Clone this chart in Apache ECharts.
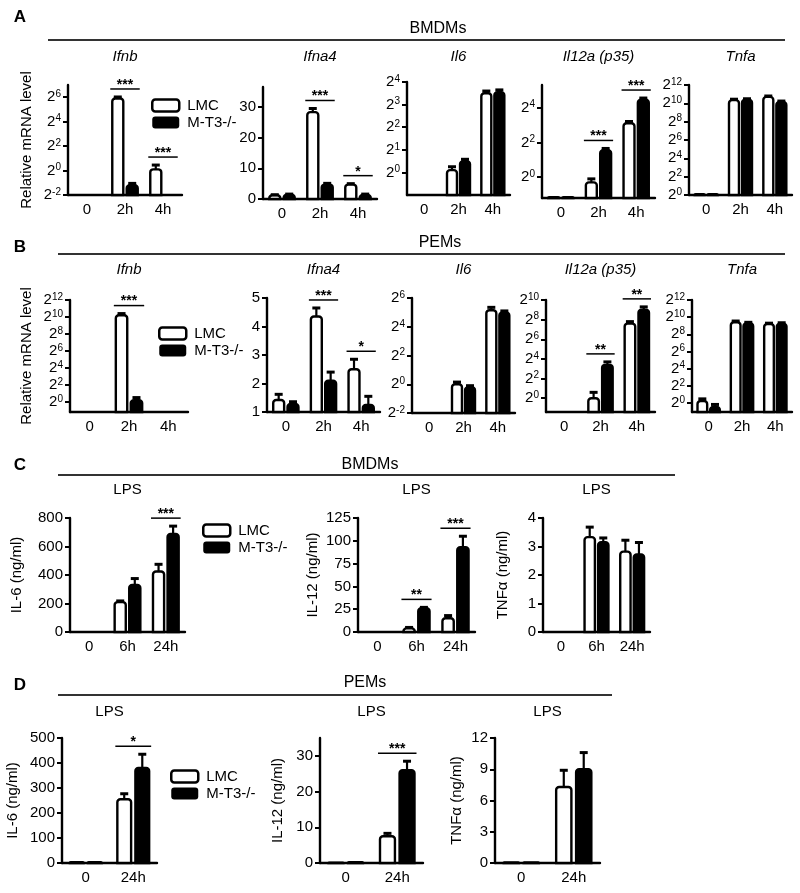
<!DOCTYPE html>
<html>
<head>
<meta charset="utf-8">
<script src="https://cdn.jsdelivr.net/npm/echarts@6/dist/echarts.min.js"></script>
<style>html,body{margin:0;padding:0;background:#fff}#c{width:800px;height:893px}</style>
</head>
<body>
<div id="c"></div>
<script>
// ---------------- categories ----------------
const catsH = ['0', '2h', '4h'];
const catsC = ['0', '6h', '24h'];
const catsD = ['0', '24h'];

// ---------------- Panel A: BMDMs, relative mRNA (log2 units) ----------------
const aIfnbLMC = [-2, 5.9, 0.1];      const aIfnbLMCErr = [0, 0.12, 0.35];
const aIfnbMT3 = [-2, -1.2, -2];      const aIfnbMT3Err = [0, 0.15, 0];
const aIfnbSig = [[1, '***'], [2, '***']];

const aIfna4LMC = [1.2, 28.3, 4.7];   const aIfna4LMCErr = [0.2, 1.2, 0.3];
const aIfna4MT3 = [1.4, 4.7, 1.3];    const aIfna4MT3Err = [0.2, 0.4, 0.3];
const aIfna4Sig = [[1, '***'], [2, '*']];

const aIl6LMC = [-1, 0.1, 3.5];       const aIl6LMCErr = [0, 0.15, 0.1];
const aIl6MT3 = [-1, 0.5, 3.55];      const aIl6MT3Err = [0, 0.08, 0.1];
const aIl6Sig = [];

const aIl12LMC = [-1.15, -0.3, 3.1];  const aIl12LMCErr = [0, 0.2, 0.1];
const aIl12MT3 = [-1.15, 1.55, 4.45]; const aIl12MT3Err = [0, 0.1, 0.1];
const aIl12Sig = [[1, '***'], [2, '***']];

const aTnfaLMC = [0.1, 10.35, 10.7];  const aTnfaLMCErr = [0, 0.1, 0.1];
const aTnfaMT3 = [0.1, 10.4, 10.15];  const aTnfaMT3Err = [0, 0.1, 0.1];
const aTnfaSig = [];

// ---------------- Panel B: PEMs, relative mRNA (log2 units) ----------------
const bIfnbLMC = [-1.2, 10.2, -1.2];  const bIfnbLMCErr = [0, 0.2, 0];
const bIfnbMT3 = [-1.2, 0.2, -1.2];   const bIfnbMT3Err = [0, 0.3, 0];
const bIfnbSig = [[1, '***']];

const bIfna4LMC = [1.42, 4.35, 2.5];  const bIfna4LMCErr = [0.2, 0.3, 0.35];
const bIfna4MT3 = [1.28, 2.1, 1.25];  const bIfna4MT3Err = [0.08, 0.3, 0.3];
const bIfna4Sig = [[1, '***'], [2, '*']];

const bIl6LMC = [-2, 0.0, 5.15];      const bIl6LMCErr = [0, 0.15, 0.2];
const bIl6MT3 = [-2, -0.2, 5.0];      const bIl6MT3Err = [0, 0.1, 0.1];
const bIl6Sig = [];

const bIl12LMC = [-1.4, 0.0, 7.6];    const bIl12LMCErr = [0, 0.6, 0.2];
const bIl12MT3 = [-1.4, 3.4, 9.0];    const bIl12MT3Err = [0, 0.3, 0.3];
const bIl12Sig = [[1, '**'], [2, '**']];

const bTnfaLMC = [0.23, 9.4, 9.2];    const bTnfaLMCErr = [0.25, 0.15, 0.1];
const bTnfaMT3 = [-0.47, 9.3, 9.25];  const bTnfaMT3Err = [0.3, 0.1, 0.1];
const bTnfaSig = [];

// ---------------- Panel C: BMDMs, LPS (ng/ml) ----------------
const cIl6LMC = [0, 210, 425];        const cIl6LMCErr = [0, 8, 50];
const cIl6MT3 = [0, 330, 688];        const cIl6MT3Err = [0, 45, 55];
const cIl6Sig = [[2, '***']];

const cIl12LMC = [0, 4, 15];          const cIl12LMCErr = [0, 1, 3];
const cIl12MT3 = [0, 26, 93];         const cIl12MT3Err = [0, 1, 12];
const cIl12Sig = [[1, '**'], [2, '***']];

const cTnfLMC = [0, 3.33, 2.82];      const cTnfLMCErr = [0, 0.35, 0.4];
const cTnfMT3 = [0, 3.15, 2.72];      const cTnfMT3Err = [0, 0.15, 0.42];
const cTnfSig = [];

// ---------------- Panel D: PEMs, LPS (ng/ml) ----------------
const dIl6LMC = [3, 255];             const dIl6LMCErr = [0, 22];
const dIl6MT3 = [3, 380];             const dIl6MT3Err = [0, 55];
const dIl6Sig = [[1, '*']];

const dIl12LMC = [0.1, 7.5];          const dIl12LMCErr = [0, 0.8];
const dIl12MT3 = [0.2, 26];           const dIl12MT3Err = [0, 2.5];
const dIl12Sig = [[1, '***']];

const dTnfLMC = [0.05, 7.3];          const dTnfLMCErr = [0, 1.6];
const dTnfMT3 = [0.05, 9.0];          const dTnfMT3Err = [0, 1.6];
const dTnfSig = [];

// ---------------- tick label values ----------------
const ticksEvenNeg2to6 = [-2, 0, 2, 4, 6];
const ticks0to4 = [0, 1, 2, 3, 4];
const ticks0to4Even = [0, 2, 4];
const ticks0to12Even = [0, 2, 4, 6, 8, 10, 12];
const ticks0to10Even = [0, 2, 4, 6, 8, 10];
const ticks0to30 = [0, 10, 20, 30];
const ticks1to5 = [1, 2, 3, 4, 5];
const ticks0to800 = [0, 200, 400, 600, 800];
const ticks0to125 = [0, 25, 50, 75, 100, 125];
const ticks0to4Lin = [0, 1, 2, 3, 4];
const ticks0to500 = [0, 100, 200, 300, 400, 500];
const ticks0to12By3 = [0, 3, 6, 9, 12];

// ---------------- texts ----------------
const mrnaName = 'Relative mRNA level';
const seriesNames = ['LMC', 'M-T3-/-'];

// ---------------- chart definitions (built from arrays) ----------------
const charts = [
  {title:'Ifnb', it:true, cats:catsH, d:[aIfnbLMC,aIfnbLMCErr,aIfnbMT3,aIfnbMT3Err], sig:aIfnbSig, min:-2, max:7, ticks:ticksEvenNeg2to6, log:true, yName:mrnaName},
  {title:'Ifna4', it:true, cats:catsH, d:[aIfna4LMC,aIfna4LMCErr,aIfna4MT3,aIfna4MT3Err], sig:aIfna4Sig, min:0, max:36.5, ticks:ticks0to30, log:false},
  {title:'Il6', it:true, cats:catsH, d:[aIl6LMC,aIl6LMCErr,aIl6MT3,aIl6MT3Err], sig:aIl6Sig, min:-1, max:4, ticks:ticks0to4, log:true},
  {title:'Il12a (p35)', it:true, cats:catsH, d:[aIl12LMC,aIl12LMCErr,aIl12MT3,aIl12MT3Err], sig:aIl12Sig, min:-1.2, max:5.3, ticks:ticks0to4Even, log:true},
  {title:'Tnfa', it:true, cats:catsH, d:[aTnfaLMC,aTnfaLMCErr,aTnfaMT3,aTnfaMT3Err], sig:aTnfaSig, min:0, max:12, ticks:ticks0to12Even, log:true},

  {title:'Ifnb', it:true, cats:catsH, d:[bIfnbLMC,bIfnbLMCErr,bIfnbMT3,bIfnbMT3Err], sig:bIfnbSig, min:-1.2, max:12, ticks:ticks0to12Even, log:true, yName:mrnaName},
  {title:'Ifna4', it:true, cats:catsH, d:[bIfna4LMC,bIfna4LMCErr,bIfna4MT3,bIfna4MT3Err], sig:bIfna4Sig, min:1, max:5, ticks:ticks1to5, log:false},
  {title:'Il6', it:true, cats:catsH, d:[bIl6LMC,bIl6LMCErr,bIl6MT3,bIl6MT3Err], sig:bIl6Sig, min:-2, max:6, ticks:ticksEvenNeg2to6, log:true},
  {title:'Il12a (p35)', it:true, cats:catsH, d:[bIl12LMC,bIl12LMCErr,bIl12MT3,bIl12MT3Err], sig:bIl12Sig, min:-1.4, max:10, ticks:ticks0to10Even, log:true},
  {title:'Tnfa', it:true, cats:catsH, d:[bTnfaLMC,bTnfaLMCErr,bTnfaMT3,bTnfaMT3Err], sig:bTnfaSig, min:-1.05, max:12, ticks:ticks0to12Even, log:true},

  {title:'LPS', it:false, cats:catsC, d:[cIl6LMC,cIl6LMCErr,cIl6MT3,cIl6MT3Err], sig:cIl6Sig, min:0, max:800, ticks:ticks0to800, log:false, yName:'IL-6 (ng/ml)'},
  {title:'LPS', it:false, cats:catsC, d:[cIl12LMC,cIl12LMCErr,cIl12MT3,cIl12MT3Err], sig:cIl12Sig, min:0, max:125, ticks:ticks0to125, log:false, yName:'IL-12 (ng/ml)'},
  {title:'LPS', it:false, cats:catsC, d:[cTnfLMC,cTnfLMCErr,cTnfMT3,cTnfMT3Err], sig:cTnfSig, min:0, max:4, ticks:ticks0to4Lin, log:false, yName:'TNF\u03b1 (ng/ml)'},

  {title:'LPS', it:false, cats:catsD, d:[dIl6LMC,dIl6LMCErr,dIl6MT3,dIl6MT3Err], sig:dIl6Sig, min:0, max:500, ticks:ticks0to500, log:false, yName:'IL-6 (ng/ml)'},
  {title:'LPS', it:false, cats:catsD, d:[dIl12LMC,dIl12LMCErr,dIl12MT3,dIl12MT3Err], sig:dIl12Sig, min:0, max:35, ticks:ticks0to30, log:false, yName:'IL-12 (ng/ml)'},
  {title:'LPS', it:false, cats:catsD, d:[dTnfLMC,dTnfLMCErr,dTnfMT3,dTnfMT3Err], sig:dTnfSig, min:0, max:12, ticks:ticks0to12By3, log:false, yName:'TNF\u03b1 (ng/ml)'}
];

// ---------------- layout (pixel boxes: left, top, right, bottom, nameGap, titleY) ----------------
const layout = [
  [68, 85, 182, 195, 34, 57], [263, 87, 377, 199, 0, 57], [407, 82, 510, 195, 0, 57], [542, 85, 655, 198, 0, 57], [689, 85, 792, 195, 0, 57],
  [70, 300, 188, 412, 36, 270], [267, 298, 380, 412, 0, 270], [412, 298, 515, 413, 0, 270], [546, 300, 655, 412, 0, 270], [692, 300, 792, 412, 0, 270],
  [70, 518, 185, 632, 46, 490], [358, 518, 475, 632, 38, 490], [543, 518, 650, 632, 33, 490],
  [62, 738, 157, 863, 42, 712], [320, 738, 423, 863, 35, 712], [495, 738, 600, 863, 31, 712]
];
const legendPos = [[146, 93], [153, 321], [197, 518], [165, 764]];
const FONT = "'Liberation Sans', Arial, Helvetica, sans-serif";

const BAR_W = 0.29, BAR_OFF = 0.19;

function barRender(yMin, side, filled) {
  return function (params, api) {
    const cat = api.value(0), v = api.value(1), e = api.value(2);
    const cw = api.size([1, 0])[0];
    const bw = cw * BAR_W, off = cw * BAR_OFF * side;
    const p0 = api.coord([cat, yMin]);
    const p1 = api.coord([cat, v]);
    const cx = p0[0] + off;
    const ch = [];
    if (v > yMin) {
      ch.push({type: 'rect', shape: {x: cx - bw / 2, y: p1[1], width: bw, height: p0[1] - p1[1], r: [3, 3, 0, 0]},
        style: {fill: filled ? '#000' : '#fff', stroke: '#000', lineWidth: 2.4}});
    }
    if (e > 0 && v > yMin) {
      const pe = api.coord([cat, v + e]);
      ch.push({type: 'line', shape: {x1: cx, y1: p1[1], x2: cx, y2: pe[1]}, style: {stroke: '#000', lineWidth: 2.2}});
      ch.push({type: 'line', shape: {x1: cx - 4, y1: pe[1], x2: cx + 4, y2: pe[1]}, style: {stroke: '#000', lineWidth: 3}});
    }
    return {type: 'group', children: ch};
  };
}
function sigRender(cats) {
  return function (params, api) {
    const cat = api.value(0), top = api.value(1);
    const cw = api.size([1, 0])[0];
    const p = api.coord([cat, top]);
    const half = cw * BAR_OFF + cw * BAR_W / 2 + 2;
    const y = p[1] - 8;
    const txt = cats[params.dataIndex];
    return {type: 'group', children: [
      {type: 'line', shape: {x1: p[0] - half, y1: y, x2: p[0] + half, y2: y}, style: {stroke: '#000', lineWidth: 1.5}},
      {type: 'text', style: {text: txt, x: p[0], y: y + 3, align: 'center', verticalAlign: 'bottom', textAlign: 'center', textVerticalAlign: 'bottom', font: 'bold 14px ' + FONT, fill: '#000'}}
    ]};
  };
}

const grids = [], xAxes = [], yAxes = [], series = [], graphics = [];
charts.forEach((c, i) => {
  const L = layout[i];
  grids.push({left: L[0], top: L[1], width: L[2] - L[0], height: L[3] - L[1]});
  xAxes.push({type: 'category', gridIndex: i, data: c.cats,
    axisLine: {onZero: false, lineStyle: {color: '#000', width: 2.4}},
    axisTick: {alignWithLabel: true, length: 5, lineStyle: {width: 2, color: '#000'}},
    axisLabel: {color: '#000', fontSize: 15, fontFamily: FONT, margin: 7}});
  const ya = {type: 'value', gridIndex: i, min: c.min, max: c.max,
    splitLine: {show: false},
    axisLine: {show: true, onZero: false, lineStyle: {color: '#000', width: 2.4}},
    axisTick: {show: true, length: 5, lineStyle: {width: 2, color: '#000'}, customValues: c.ticks},
    axisLabel: {color: '#000', fontSize: 15, fontFamily: FONT, margin: 7, customValues: c.ticks}};
  if (c.log) {
    ya.axisLabel.formatter = v => '{b|2}{s|' + v + '}';
    ya.axisLabel.rich = {b: {fontSize: 15, lineHeight: 16, fontFamily: FONT, color: '#000'},
                         s: {fontSize: 10, lineHeight: 10, verticalAlign: 'top', fontFamily: FONT, color: '#000'}};
  }
  if (c.yName) {
    Object.assign(ya, {name: c.yName, nameLocation: 'middle', nameRotate: 90, nameGap: L[4],
      nameTextStyle: {fontSize: 15, color: '#000', fontFamily: FONT}});
  }
  yAxes.push(ya);
  const [lmc, lmcE, mt3, mt3E] = c.d;
  series.push({type: 'custom', name: seriesNames[0], xAxisIndex: i, yAxisIndex: i, clip: false, silent: true,
    itemStyle: {color: '#fff', borderColor: '#000'},
    renderItem: barRender(c.min, -1, false), data: lmc.map((v, k) => [k, v, lmcE[k]])});
  series.push({type: 'custom', name: seriesNames[1], xAxisIndex: i, yAxisIndex: i, clip: false, silent: true,
    itemStyle: {color: '#000'},
    renderItem: barRender(c.min, 1, true), data: mt3.map((v, k) => [k, v, mt3E[k]])});
  if (c.sig.length) {
    series.push({type: 'custom', name: 'sig' + i, xAxisIndex: i, yAxisIndex: i, clip: false, silent: true,
      renderItem: sigRender(c.sig.map(s => s[1])),
      data: c.sig.map(s => [s[0], Math.max(lmc[s[0]] + lmcE[s[0]], mt3[s[0]] + mt3E[s[0]])])});
  }
  graphics.push({type: 'text', x: (L[0] + L[2]) / 2, y: L[5], silent: true,
    style: {text: c.title, align: 'center', verticalAlign: 'middle', textAlign: 'center', textVerticalAlign: 'middle',
      font: (c.it ? 'italic ' : '') + '15px ' + FONT, fill: '#000'}});
});

// panel letters, section headers and rules
const panelLetters = [['A', 20, 17], ['B', 20, 247], ['C', 20, 465], ['D', 20, 685]];
const sections = [['BMDMs', 438, 29, 48, 785, 40], ['PEMs', 440, 243, 58, 785, 254], ['BMDMs', 370, 465, 58, 675, 475], ['PEMs', 365, 683, 58, 612, 695]];
panelLetters.forEach(p => graphics.push({type: 'text', x: p[1], y: p[2], silent: true,
  style: {text: p[0], align: 'center', verticalAlign: 'middle', textAlign: 'center', textVerticalAlign: 'middle', font: 'bold 17px ' + FONT, fill: '#000'}}));
sections.forEach(s => {
  graphics.push({type: 'text', x: s[1], y: s[2], silent: true,
    style: {text: s[0], align: 'center', verticalAlign: 'middle', textAlign: 'center', textVerticalAlign: 'middle', font: '16px ' + FONT, fill: '#000'}});
  graphics.push({type: 'line', silent: true, shape: {x1: s[3], y1: s[5], x2: s[4], y2: s[5]}, style: {stroke: '#333', lineWidth: 2}});
});

const legends = legendPos.map(p => ({
  left: p[0], top: p[1], orient: 'vertical', itemWidth: 27, itemHeight: 12, itemGap: 2, selectedMode: false, icon: 'roundRect',
  textStyle: {fontSize: 15, color: '#000', fontFamily: FONT, padding: [0, 0, 0, 3]},
  data: [{name: seriesNames[0], itemStyle: {color: '#fff', borderColor: '#000', borderWidth: 2.5}},
         {name: seriesNames[1], itemStyle: {color: '#000', borderColor: '#000', borderWidth: 0}}]
}));

const chart = echarts.init(document.getElementById('c'), null, {renderer: 'canvas'});
chart.setOption({
  animation: false,
  backgroundColor: '#fff',
  textStyle: {fontFamily: FONT},
  grid: grids, xAxis: xAxes, yAxis: yAxes, series: series,
  legend: legends,
  graphic: graphics
});
</script>
</body>
</html>
